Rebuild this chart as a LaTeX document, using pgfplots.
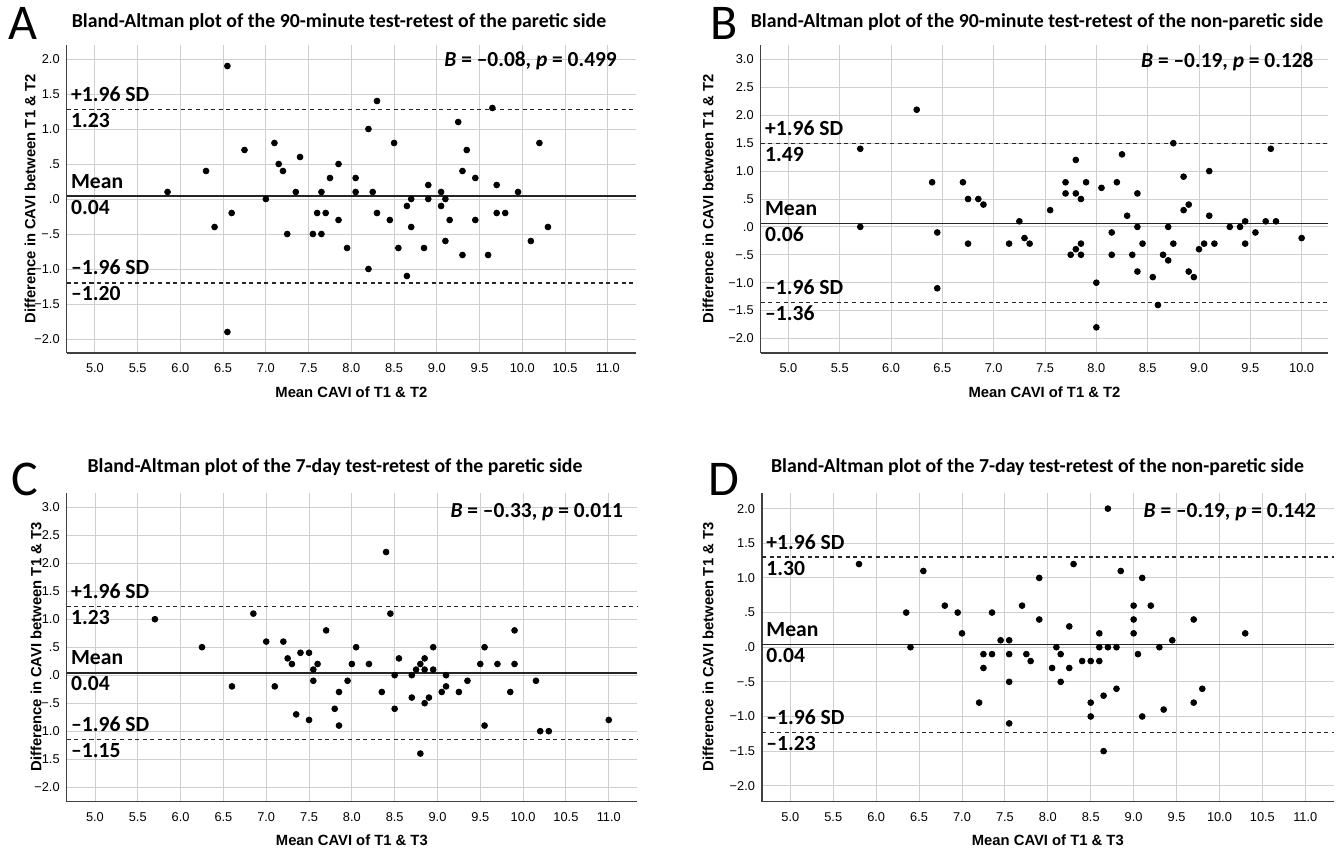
\documentclass[border=0pt]{standalone}
\usepackage{fontspec}
\setmainfont{Liberation Sans}
\newfontfamily\cali{Carlito}
\usepackage{pgfplots}
\pgfplotsset{compat=1.18}

\pgfplotsset{
  ba/.style={scale only axis, anchor=south west,
    axis lines=left, axis line style={-, draw=black!75, line width=0.75pt},
    grid=major, grid style={draw=black!19, line width=0.45pt},
    major tick length=0pt,
    tick label style={font=\fontsize{6.4}{7.5}\selectfont},
    xticklabel style={anchor=center, yshift=-7.5pt},
    label style={font=\bfseries\fontsize{7.4}{9}\selectfont},
    xlabel style={at={(rel axis cs:0.5,0)}, anchor=center, yshift=-19.5pt},
    clip=false},
  xa/.style={xmin=4.67, xmax=11.33, xtick={5,5.5,...,11},
    xticklabels={5.0,5.5,6.0,6.5,7.0,7.5,8.0,8.5,9.0,9.5,10.0,10.5,11.0}},
  ysmall/.style={ytick={-2,-1.5,...,2},
    yticklabels={−2.0,−1.5,−1.0,−.5,.0,.5,1.0,1.5,2.0}},
  ybig/.style={ymin=-2.26, ymax=3.26, ytick={-2,-1.5,...,3},
    yticklabels={−2.0,−1.5,−1.0,−.5,.0,.5,1.0,1.5,2.0,2.5,3.0}},
  dots/.style={only marks, mark=*, mark size=1.45pt, black},
  meanl/.style={black!85, line width=0.9pt, no marks},
  sdl/.style={black!85, line width=0.7pt, dash pattern=on 2pt off 1.8pt, no marks},
}
\tikzset{
  lab/.style={font=\cali\bfseries\fontsize{10.8}{12}\selectfont, inner sep=0pt, anchor=base west, xshift=2pt},
  ann/.style={font=\cali\bfseries\fontsize{10.7}{12}\selectfont, inner sep=0pt, anchor=east},
  ttl/.style={font=\cali\bfseries\fontsize{9.9}{11}\selectfont, inner sep=0pt},
  let/.style={font=\cali\fontsize{25}{27}\selectfont, inner sep=0pt},
  yl/.style={font=\bfseries\fontsize{7.4}{9}\selectfont, rotate=90, inner sep=0pt},
}

\begin{document}
\begin{tikzpicture}
\path[use as bounding box] (0,0) rectangle (668pt,425.5pt);

% titles and panel letters
\node[let] at (11.5pt,414pt) {A};
\node[let] at (362pt,414pt) {B};
\node[let] at (12.5pt,186pt) {C};
\node[let] at (362pt,186pt) {D};
\node[ttl] at (169.5pt,414.5pt) {Bland-Altman plot of the 90-minute test-retest of the paretic side};
\node[ttl] at (518.5pt,414.5pt) {Bland-Altman plot of the 90-minute test-retest of the non-paretic side};
\node[ttl] at (167.5pt,192pt) {Bland-Altman plot of the 7-day test-retest of the paretic side};
\node[ttl] at (518.75pt,192pt) {Bland-Altman plot of the 7-day test-retest of the non-paretic side};
\node[yl] at (15pt,326pt) {Difference in CAVI between T1 \& T2};
\node[yl] at (354pt,326pt) {Difference in CAVI between T1 \& T2};
\node[yl] at (18pt,102pt) {Difference in CAVI between T1 \& T3};
\node[yl] at (354pt,102pt) {Difference in CAVI between T1 \& T3};

% A
\begin{axis}[ba, xa, ysmall, at={(33.35pt,249pt)}, width=284.65pt, height=154pt,
  ymin=-2.2, ymax=2.2, xlabel={Mean CAVI of T1 \& T2}]
\addplot[meanl] coordinates {(4.67,0.04) (11.33,0.04)};
\addplot[sdl] coordinates {(4.67,1.28) (11.33,1.28)};
\addplot[sdl] coordinates {(4.67,-1.20) (11.33,-1.20)};
\addplot[dots] coordinates {
(5.85,0.1) (6.55,1.9) (6.3,0.4) (6.4,-0.4) (6.6,-0.2) (6.55,-1.9) (6.75,0.7)
(7.0,0.0) (7.1,0.8) (7.15,0.5) (7.2,0.4) (7.25,-0.5) (7.35,0.1) (7.4,0.6)
(7.55,-0.5) (7.65,0.1) (7.65,-0.5) (7.6,-0.2) (7.7,-0.2) (7.75,0.3) (7.85,0.5)
(7.85,-0.3) (7.95,-0.7) (8.05,0.3) (8.05,0.1)
(8.3,1.4) (8.2,1.0) (8.5,0.8) (8.25,0.1) (8.3,-0.2) (8.45,-0.3) (8.55,-0.7)
(8.2,-1.0) (8.65,-1.1) (8.65,-0.1) (8.7,0.0) (8.7,-0.4) (8.85,-0.7) (8.9,0.2)
(8.9,0.0) (9.05,0.1) (9.05,-0.1) (9.1,0.0) (9.15,-0.3) (9.1,-0.6) (9.3,-0.8)
(9.3,0.4) (9.25,1.1) (9.35,0.7) (9.45,0.3) (9.45,-0.3) (9.6,-0.8) (9.65,1.3)
(9.7,0.2) (9.7,-0.2) (9.8,-0.2) (9.95,0.1) (10.1,-0.6) (10.2,0.8) (10.3,-0.4)};
\node[lab, yshift=4pt] at (axis cs:4.67,1.28) {+1.96 SD};
\node[lab, yshift=-9pt] at (axis cs:4.67,1.28) {1.23};
\node[lab, yshift=4pt] at (axis cs:4.67,0.04) {Mean};
\node[lab, yshift=-9pt] at (axis cs:4.67,0.04) {0.04};
\node[lab, yshift=4pt] at (axis cs:4.67,-1.20) {–1.96 SD};
\node[lab, yshift=-9pt] at (axis cs:4.67,-1.20) {–1.20};
\node[ann] at (axis cs:11.11,1.97) {\textit{B} = –0.08, \textit{p} = 0.499};
\end{axis}

% B
\begin{axis}[ba, ybig, at={(380.35pt,249pt)}, width=283.8pt, height=154pt,
  xmin=4.73, xmax=10.26, xtick={5,5.5,...,10},
  xticklabels={5.0,5.5,6.0,6.5,7.0,7.5,8.0,8.5,9.0,9.5,10.0},
  xlabel={Mean CAVI of T1 \& T2}]
\addplot[meanl] coordinates {(4.73,0.06) (10.26,0.06)};
\addplot[sdl] coordinates {(4.73,1.49) (10.26,1.49)};
\addplot[sdl] coordinates {(4.73,-1.36) (10.26,-1.36)};
\addplot[dots] coordinates {
(5.7,1.4) (5.7,0.0) (6.25,2.1) (6.4,0.8) (6.45,-0.1) (6.45,-1.1) (6.7,0.8)
(6.75,0.5) (6.75,-0.3) (6.85,0.5) (6.9,0.4) (7.15,-0.3) (7.25,0.1) (7.3,-0.2)
(7.35,-0.3) (7.55,0.3) (7.7,0.8) (7.7,0.6) (7.8,1.2) (7.8,0.6) (7.85,0.5)
(7.9,0.8) (7.75,-0.5) (7.8,-0.4) (7.85,-0.3) (7.85,-0.5) (8.0,-1.0) (8.0,-1.8)
(8.05,0.7) (8.15,-0.1) (8.15,-0.5) (8.2,0.8) (8.25,1.3) (8.3,0.2) (8.35,-0.5)
(8.4,0.6) (8.4,0.0) (8.4,-0.8) (8.45,-0.3) (8.55,-0.9) (8.6,-1.4) (8.65,-0.5)
(8.7,0.0) (8.7,-0.6) (8.75,1.5) (8.75,-0.3) (8.85,0.9) (8.85,0.3) (8.9,0.4)
(8.9,-0.8) (8.95,-0.9) (9.0,-0.4) (9.05,-0.3) (9.1,1.0) (9.1,0.2) (9.15,-0.3)
(9.3,0.0) (9.4,0.0) (9.45,0.1) (9.45,-0.3) (9.55,-0.1) (9.65,0.1) (9.7,1.4)
(9.75,0.1) (10.0,-0.2)};
\node[lab, yshift=4pt] at (axis cs:4.73,1.49) {+1.96 SD};
\node[lab, yshift=-9pt] at (axis cs:4.73,1.49) {1.49};
\node[lab, yshift=4pt] at (axis cs:4.73,0.06) {Mean};
\node[lab, yshift=-9pt] at (axis cs:4.73,0.06) {0.06};
\node[lab, yshift=4pt] at (axis cs:4.73,-1.36) {–1.96 SD};
\node[lab, yshift=-9pt] at (axis cs:4.73,-1.36) {–1.36};
\node[ann] at (axis cs:10.12,2.96) {\textit{B} = –0.19, \textit{p} = 0.128};
\end{axis}

% C
\begin{axis}[ba, xa, ybig, at={(33.35pt,24.65pt)}, width=285.15pt, height=154.5pt,
  xlabel={Mean CAVI of T1 \& T3}]
\addplot[meanl] coordinates {(4.67,0.04) (11.33,0.04)};
\addplot[sdl] coordinates {(4.67,1.23) (11.33,1.23)};
\addplot[sdl] coordinates {(4.67,-1.15) (11.33,-1.15)};
\addplot[dots] coordinates {
(5.7,1.0) (6.25,0.5) (6.6,-0.2) (6.85,1.1) (7.0,0.6) (7.1,-0.2) (7.2,0.6)
(7.25,0.3) (7.3,0.2) (7.35,-0.7) (7.4,0.4) (7.5,0.4) (7.5,-0.8) (7.55,0.1)
(7.55,-0.1) (7.6,0.2) (7.7,0.8) (7.8,-0.6) (7.85,-0.3) (7.85,-0.9) (7.95,-0.1)
(8.0,0.2) (8.05,0.5) (8.2,0.2) (8.35,-0.3) (8.4,2.2) (8.45,1.1) (8.5,0.0)
(8.5,-0.6) (8.55,0.3) (8.7,0.0) (8.7,-0.4) (8.75,0.1) (8.8,0.2) (8.8,-1.4)
(8.85,0.3) (8.85,0.1) (8.85,-0.5) (8.9,-0.4) (8.95,0.5) (8.95,0.1) (9.05,-0.3)
(9.1,0.0) (9.1,-0.2) (9.25,-0.3) (9.35,-0.1) (9.5,0.2) (9.55,0.5) (9.55,-0.9)
(9.7,0.2) (9.85,-0.3) (9.9,0.8) (9.9,0.2) (10.15,-0.1) (10.2,-1.0) (10.3,-1.0)
(11.0,-0.8)};
\node[lab, yshift=4pt] at (axis cs:4.67,1.23) {+1.96 SD};
\node[lab, yshift=-9pt] at (axis cs:4.67,1.23) {1.23};
\node[lab, yshift=4pt] at (axis cs:4.67,0.04) {Mean};
\node[lab, yshift=-9pt] at (axis cs:4.67,0.04) {0.04};
\node[lab, yshift=4pt] at (axis cs:4.67,-1.15) {–1.96 SD};
\node[lab, yshift=-9pt] at (axis cs:4.67,-1.15) {–1.15};
\node[ann] at (axis cs:11.17,2.91) {\textit{B} = –0.33, \textit{p} = 0.011};
\end{axis}

% D
\begin{axis}[ba, xa, ysmall, at={(381pt,24.65pt)}, width=285.8pt, height=154.5pt,
  ymin=-2.23, ymax=2.23, xlabel={Mean CAVI of T1 \& T3}]
\addplot[meanl] coordinates {(4.67,0.04) (11.33,0.04)};
\addplot[sdl] coordinates {(4.67,1.30) (11.33,1.30)};
\addplot[sdl] coordinates {(4.67,-1.23) (11.33,-1.23)};
\addplot[dots] coordinates {
(5.8,1.2) (6.35,0.5) (6.4,0.0) (6.55,1.1) (6.8,0.6) (6.95,0.5) (7.0,0.2)
(7.2,-0.8) (7.25,-0.1) (7.25,-0.3) (7.35,0.5) (7.35,-0.1) (7.45,0.1) (7.55,0.1)
(7.55,-0.1) (7.55,-0.5) (7.55,-1.1) (7.7,0.6) (7.75,-0.1) (7.8,-0.2)
(7.9,1.0) (7.9,0.4) (8.05,-0.3) (8.1,0.0) (8.15,-0.1) (8.15,-0.5) (8.25,0.3)
(8.25,-0.3) (8.3,1.2) (8.4,-0.2) (8.5,-0.2) (8.5,-0.8) (8.5,-1.0) (8.6,0.2)
(8.6,0.0) (8.6,-0.2) (8.65,-0.7) (8.65,-1.5) (8.7,2.0) (8.7,0.0) (8.8,0.0)
(8.8,-0.6) (8.85,1.1) (9.0,0.6) (9.0,0.4) (9.0,0.2) (9.05,-0.1) (9.1,1.0)
(9.1,-1.0) (9.2,0.6) (9.3,0.0) (9.35,-0.9) (9.45,0.1) (9.7,0.4) (9.7,-0.8)
(9.8,-0.6) (10.3,0.2)};
\node[lab, yshift=4pt] at (axis cs:4.67,1.30) {+1.96 SD};
\node[lab, yshift=-9pt] at (axis cs:4.67,1.30) {1.30};
\node[lab, yshift=4pt] at (axis cs:4.67,0.04) {Mean};
\node[lab, yshift=-9pt] at (axis cs:4.67,0.04) {0.04};
\node[lab, yshift=4pt] at (axis cs:4.67,-1.23) {–1.96 SD};
\node[lab, yshift=-9pt] at (axis cs:4.67,-1.23) {–1.23};
\node[ann] at (axis cs:11.13,1.95) {\textit{B} = –0.19, \textit{p} = 0.142};
\end{axis}
\end{tikzpicture}
\end{document}
